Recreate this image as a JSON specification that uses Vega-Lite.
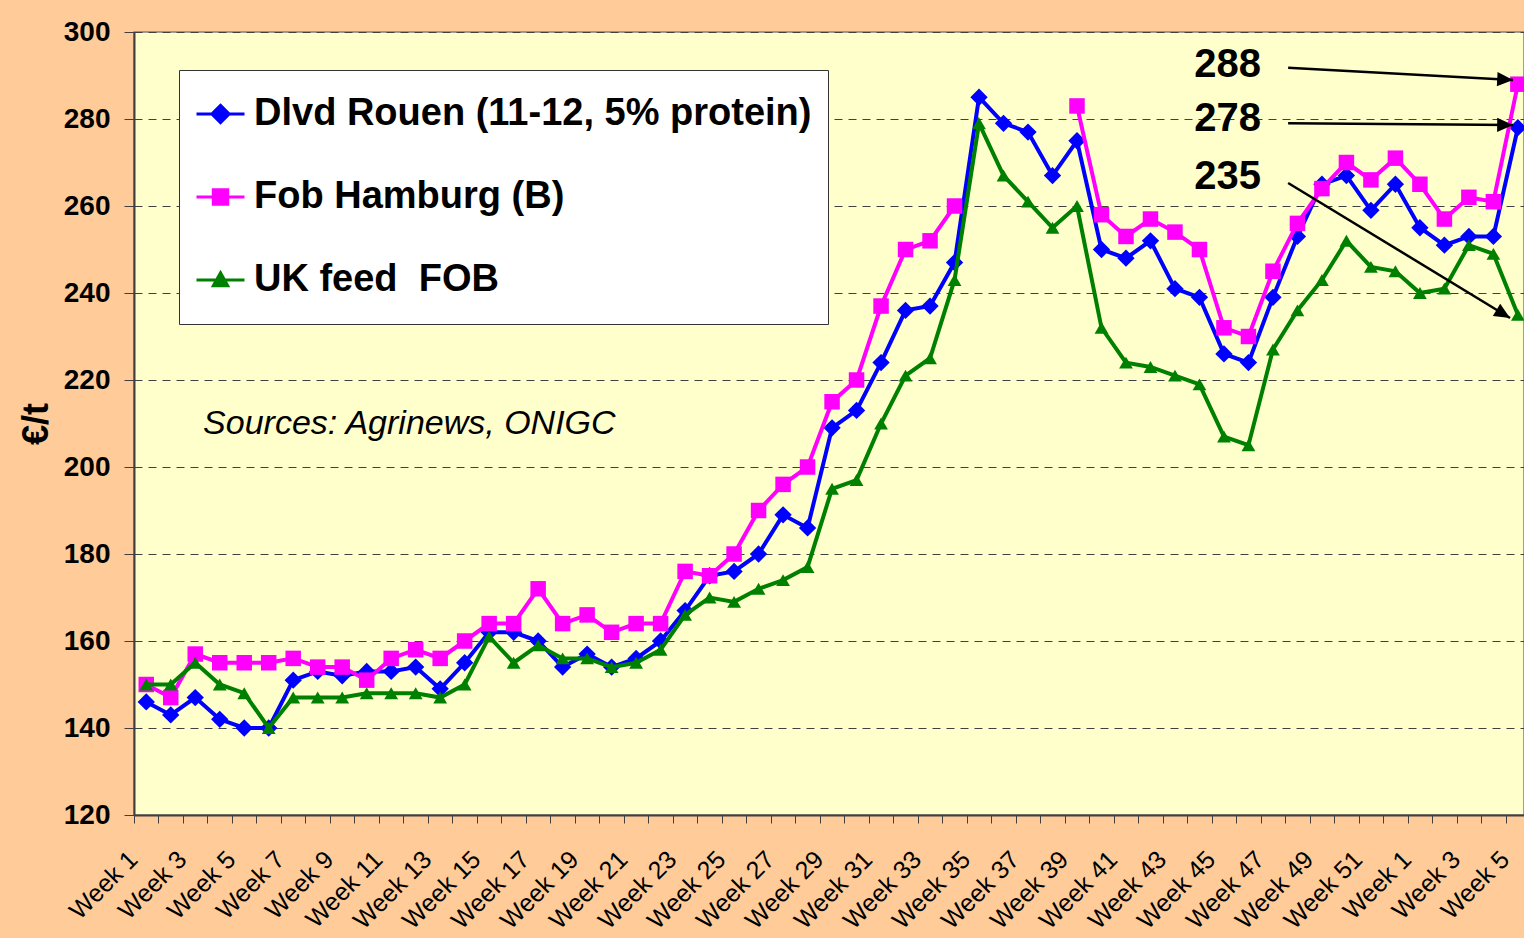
{
  "$schema": "https://vega.github.io/schema/vega-lite/v6.json",
  "width": 1390,
  "height": 783,
  "autosize": {"type": "none"},
  "padding": {"left": 134, "top": 32, "right": 0, "bottom": 123},
  "background": "#FFCC99",
  "config": {
    "font": "Liberation Sans",
    "view": {"fill": "#FFFFCC", "stroke": "#7f7f7f", "strokeWidth": 1.5}
  },
  "datasets": {
    "prices": [
      {"i": 0, "rouen": 146, "hamburg": 150, "uk": 150},
      {"i": 1, "rouen": 143, "hamburg": 147, "uk": 150},
      {"i": 2, "rouen": 147, "hamburg": 157, "uk": 155},
      {"i": 3, "rouen": 142, "hamburg": 155, "uk": 150},
      {"i": 4, "rouen": 140, "hamburg": 155, "uk": 148},
      {"i": 5, "rouen": 140, "hamburg": 155, "uk": 140},
      {"i": 6, "rouen": 151, "hamburg": 156, "uk": 147},
      {"i": 7, "rouen": 153, "hamburg": 154, "uk": 147},
      {"i": 8, "rouen": 152, "hamburg": 154, "uk": 147},
      {"i": 9, "rouen": 153, "hamburg": 151, "uk": 148},
      {"i": 10, "rouen": 153, "hamburg": 156, "uk": 148},
      {"i": 11, "rouen": 154, "hamburg": 158, "uk": 148},
      {"i": 12, "rouen": 149, "hamburg": 156, "uk": 147},
      {"i": 13, "rouen": 155, "hamburg": 160, "uk": 150},
      {"i": 14, "rouen": 162, "hamburg": 164, "uk": 161},
      {"i": 15, "rouen": 162, "hamburg": 164, "uk": 155},
      {"i": 16, "rouen": 160, "hamburg": 172, "uk": 159},
      {"i": 17, "rouen": 154, "hamburg": 164, "uk": 156},
      {"i": 18, "rouen": 157, "hamburg": 166, "uk": 156},
      {"i": 19, "rouen": 154, "hamburg": 162, "uk": 154},
      {"i": 20, "rouen": 156, "hamburg": 164, "uk": 155},
      {"i": 21, "rouen": 160, "hamburg": 164, "uk": 158},
      {"i": 22, "rouen": 167, "hamburg": 176, "uk": 166},
      {"i": 23, "rouen": 175, "hamburg": 175, "uk": 170},
      {"i": 24, "rouen": 176, "hamburg": 180, "uk": 169},
      {"i": 25, "rouen": 180, "hamburg": 190, "uk": 172},
      {"i": 26, "rouen": 189, "hamburg": 196, "uk": 174},
      {"i": 27, "rouen": 186, "hamburg": 200, "uk": 177},
      {"i": 28, "rouen": 209, "hamburg": 215, "uk": 195},
      {"i": 29, "rouen": 213, "hamburg": 220, "uk": 197},
      {"i": 30, "rouen": 224, "hamburg": 237, "uk": 210},
      {"i": 31, "rouen": 236, "hamburg": 250, "uk": 221},
      {"i": 32, "rouen": 237, "hamburg": 252, "uk": 225},
      {"i": 33, "rouen": 247, "hamburg": 260, "uk": 243},
      {"i": 34, "rouen": 285, "hamburg": null, "uk": 279},
      {"i": 35, "rouen": 279, "hamburg": null, "uk": 267},
      {"i": 36, "rouen": 277, "hamburg": null, "uk": 261},
      {"i": 37, "rouen": 267, "hamburg": null, "uk": 255},
      {"i": 38, "rouen": 275, "hamburg": 283, "uk": 260},
      {"i": 39, "rouen": 250, "hamburg": 258, "uk": 232},
      {"i": 40, "rouen": 248, "hamburg": 253, "uk": 224},
      {"i": 41, "rouen": 252, "hamburg": 257, "uk": 223},
      {"i": 42, "rouen": 241, "hamburg": 254, "uk": 221},
      {"i": 43, "rouen": 239, "hamburg": 250, "uk": 219},
      {"i": 44, "rouen": 226, "hamburg": 232, "uk": 207},
      {"i": 45, "rouen": 224, "hamburg": 230, "uk": 205},
      {"i": 46, "rouen": 239, "hamburg": 245, "uk": 227},
      {"i": 47, "rouen": 253, "hamburg": 256, "uk": 236},
      {"i": 48, "rouen": 265, "hamburg": 264, "uk": 243},
      {"i": 49, "rouen": 267, "hamburg": 270, "uk": 252},
      {"i": 50, "rouen": 259, "hamburg": 266, "uk": 246},
      {"i": 51, "rouen": 265, "hamburg": 271, "uk": 245},
      {"i": 52, "rouen": 255, "hamburg": 265, "uk": 240},
      {"i": 53, "rouen": 251, "hamburg": 257, "uk": 241},
      {"i": 54, "rouen": 253, "hamburg": 262, "uk": 251},
      {"i": 55, "rouen": 253, "hamburg": 261, "uk": 249},
      {"i": 56, "rouen": 278, "hamburg": 288, "uk": 235}
    ],
    "source": [
      {"i": 2.32, "value": 209.9, "note": "Sources: Agrinews, ONIGC"}
    ],
    "callouts": [
      {"i": 45.51, "value": 292.3, "label": "288"},
      {"i": 45.51, "value": 280.0, "label": "278"},
      {"i": 45.51, "value": 266.6, "label": "235"}
    ],
    "arrows": [
      {"label": "288", "i": 55.8, "value": 288.97, "i2": 46.62, "value2": 291.8},
      {"label": "278", "i": 55.8, "value": 278.6, "i2": 46.62, "value2": 279.0},
      {"label": "235", "i": 55.68, "value": 234.25, "i2": 46.62, "value2": 265.3}
    ]
  },
  "encoding": {
    "x": {
      "field": "i",
      "type": "quantitative",
      "scale": {"domain": [-0.5, 56.25], "nice": false, "zero": false},
      "axis": {
        "title": null,
        "values": [0,1,2,3,4,5,6,7,8,9,10,11,12,13,14,15,16,17,18,19,20,21,22,23,24,25,26,27,28,29,30,31,32,33,34,35,36,37,38,39,40,41,42,43,44,45,46,47,48,49,50,51,52,53,54,55,56],
        "labelExpr": "datum.value % 2 == 1 ? '' : 'Week ' + (datum.value < 52 ? datum.value + 1 : datum.value - 51)",
        "labelAngle": -45,
        "labelAlign": "right",
        "labelBaseline": "middle",
        "labelFontSize": 25,
        "labelColor": "black",
        "labelPadding": 32,
        "labelOffset": -1,
        "tickOffset": -12.25,
        "tickSize": 8,
        "tickColor": "#404040",
        "domainColor": "#404040",
        "domainWidth": 2,
        "grid": false,
        "labelOverlap": false,
        "labelFlush": false,
        "labelBound": false
      }
    },
    "y": {
      "field": "value",
      "type": "quantitative",
      "scale": {"domain": [120, 300], "nice": false, "zero": false},
      "axis": {
        "title": "€/t",
        "titleFontSize": 36,
        "titleFontWeight": "bold",
        "titleColor": "black",
        "titlePadding": 8,
        "values": [120, 140, 160, 180, 200, 220, 240, 260, 280, 300],
        "labelFontSize": 28,
        "labelFontWeight": "bold",
        "labelColor": "black",
        "labelPadding": 14,
        "tickSize": 10,
        "tickColor": "#404040",
        "domainColor": "#404040",
        "domainWidth": 2,
        "grid": true,
        "gridDash": [8, 6],
        "gridColor": "#404040",
        "gridWidth": 1,
        "encode": {"grid": {"update": {"strokeOpacity": {"signal": "datum.value == 120 || datum.value == 300 ? 0 : 1"}}}}
      }
    }
  },
  "layer": [
    {
      "data": {"name": "prices"},
      "transform": [{"fold": ["rouen", "hamburg", "uk"], "as": ["series", "value"]}],
      "encoding": {
        "color": {
          "field": "series",
          "type": "nominal",
          "scale": {"domain": ["rouen", "hamburg", "uk"], "range": ["#0000FF", "#FF00FF", "#008000"]},
          "legend": {
            "title": null,
            "orient": "none",
            "legendX": 45,
            "legendY": 38,
            "padding": 16,
            "rowPadding": 27,
            "clipHeight": 56,
            "labelFontSize": 38,
            "labelFontWeight": "bold",
            "labelColor": "black",
            "labelOffset": 8,
            "labelLimit": 0,
            "symbolSize": 2304,
            "symbolStrokeWidth": 3,
            "fillColor": "white",
            "strokeColor": "#333333",
            "labelExpr": "datum.value == 'rouen' ? 'Dlvd Rouen (11-12, 5% protein)' : datum.value == 'hamburg' ? 'Fob Hamburg (B)' : 'UK feed\u00a0 FOB'",
            "encode": {
              "symbols": {
                "update": {
                  "shape": {"signal": "datum.value == 'rouen' ? 'M-1,0H1M0,-0.36L0.36,0L0,0.36L-0.36,0Z' : datum.value == 'hamburg' ? 'M-1,0H1M-0.3,-0.3H0.3V0.3H-0.3Z' : 'M-1,0H1M0,-0.3L0.3,0.24H-0.3Z'"},
                  "stroke": {"signal": "scale('color', datum.value)"},
                  "fill": {"signal": "scale('color', datum.value)"},
                  "strokeWidth": {"value": 3},
                  "size": {"value": 2304},
                  "opacity": {"value": 1},
                  "fillOpacity": {"value": 1},
                  "strokeOpacity": {"value": 1}
                }
              }
            }
          }
        }
      },
      "layer": [
        {
          "transform": [{"filter": "datum.series == 'rouen'"}],
          "layer": [
            {"mark": {"type": "line", "strokeWidth": 4, "invalid": "break-paths-show-domains"}, "encoding": {}},
            {"transform": [{"filter": "isValid(datum.value)"}], "mark": {"type": "point", "shape": "diamond", "size": 300, "filled": true, "opacity": 1, "strokeWidth": 1}}
          ]
        },
        {
          "transform": [{"filter": "datum.series == 'hamburg'"}],
          "layer": [
            {"mark": {"type": "line", "strokeWidth": 4, "invalid": "break-paths-show-domains"}, "encoding": {}},
            {"transform": [{"filter": "isValid(datum.value)"}], "mark": {"type": "point", "shape": "square", "size": 240, "filled": true, "opacity": 1, "strokeWidth": 1}}
          ]
        },
        {
          "transform": [{"filter": "datum.series == 'uk'"}],
          "layer": [
            {"mark": {"type": "line", "strokeWidth": 4, "invalid": "break-paths-show-domains"}, "encoding": {}},
            {"transform": [{"filter": "isValid(datum.value)"}], "mark": {"type": "point", "shape": "triangle-up", "size": 190, "filled": true, "opacity": 1, "strokeWidth": 1}}
          ]
        }
      ]
    },
    {
      "data": {"name": "source"},
      "mark": {"type": "text", "align": "left", "baseline": "middle", "fontSize": 34, "fontStyle": "italic", "color": "black"},
      "encoding": {"text": {"field": "note"}}
    },
    {
      "data": {"name": "callouts"},
      "mark": {"type": "text", "align": "right", "baseline": "middle", "fontSize": 40, "fontWeight": "bold", "color": "black"},
      "encoding": {"text": {"field": "label"}}
    },
    {
      "data": {"name": "arrows"},
      "mark": {"type": "rule", "color": "black", "strokeWidth": 2.5},
      "encoding": {"x2": {"field": "i2"}, "y2": {"field": "value2"}}
    },
    {
      "data": {"name": "arrows"},
      "transform": [{"filter": "datum.label == '288'"}],
      "mark": {"type": "point", "shape": "M0,0L-1,-0.45L-1,0.45Z", "angle": 3.1, "size": 1000, "filled": true, "color": "black", "opacity": 1}
    },
    {
      "data": {"name": "arrows"},
      "transform": [{"filter": "datum.label == '278'"}],
      "mark": {"type": "point", "shape": "M0,0L-1,-0.45L-1,0.45Z", "angle": 0.4, "size": 1000, "filled": true, "color": "black", "opacity": 1}
    },
    {
      "data": {"name": "arrows"},
      "transform": [{"filter": "datum.label == '235'"}],
      "mark": {"type": "point", "shape": "M0,0L-1,-0.45L-1,0.45Z", "angle": 31.3, "size": 1000, "filled": true, "color": "black", "opacity": 1}
    }
  ]
}
